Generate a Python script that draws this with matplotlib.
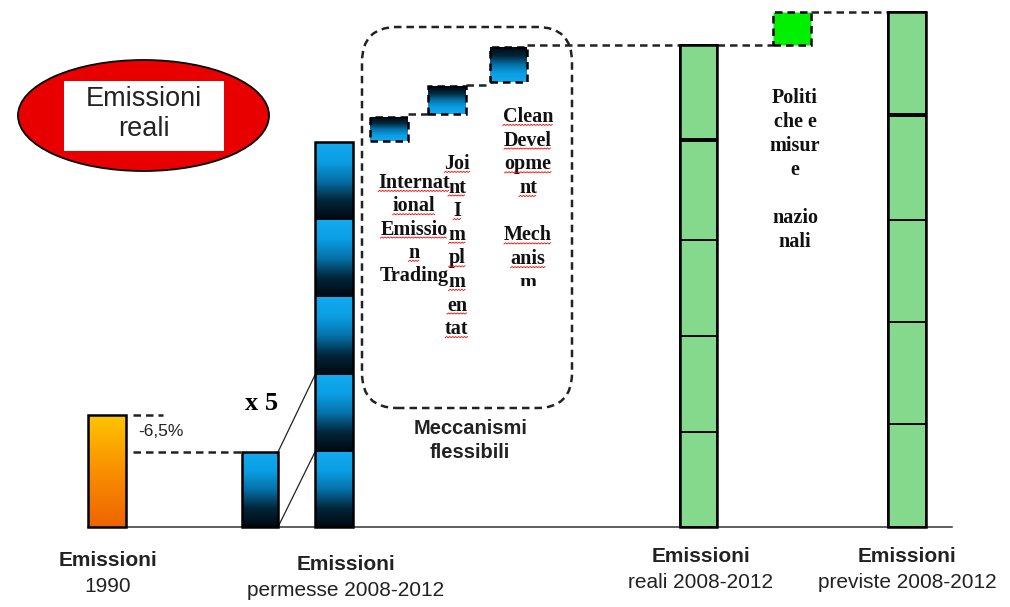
import numpy as np
import matplotlib.pyplot as plt
from matplotlib.patches import Rectangle, Ellipse, FancyBboxPatch
from matplotlib.colors import LinearSegmentedColormap
from matplotlib.transforms import Bbox, TransformedBbox

# values as drawn in the picture (arbitrary units, baseline = 0)
emissioni_1990 = 112
permesse_base = 75
permesse_stack = [75, 77, 78, 77, 78]
meccanismi = ["IET", "JI", "CDM"]
mecc_low = [386, 413, 445]
mecc_high = [410, 441, 480]
reali_segments = [95, 96, 96, 100, 95]
previste_segments = [103, 102, 102, 105, 103]
politiche_low, politiche_high = 482, 515

label_top = ["Emissioni", "Emissioni", "Emissioni", "Emissioni"]
label_sub = ["1990", "permesse 2008-2012", "reali 2008-2012", "previste 2008-2012"]

iet_lines = ["Internat", "ional", "Emissio", "n", "Trading"]
ji_lines = ["Joi", "nt", "I", "m", "pl", "m", "en", "tat"]
cdm_lines = ["Clean", "Devel", "opme", "nt", "", "Mech", "anis", "m"]
politiche_lines = ["Politi", "che e", "misur", "e", "", "nazio", "nali"]

# layout (x spans of the bars)
x_1990 = (88, 126)
x_perm = (242, 278)
x_stack = (315, 353)
x_mecc = [(370, 408), (428, 466), (490, 527)]
x_reali = (680, 717)
x_pol = (773, 811)
x_prev = (888, 926)

SANS = "Liberation Sans"
SERIF = "Liberation Serif"
DASH = (0, (3, 2))

blue = LinearSegmentedColormap.from_list(
    "blue", ["#000810", "#02263a", "#0670a8", "#0a9ee2", "#14aaf0"])
orange = LinearSegmentedColormap.from_list("orange", ["#ee6400", "#f98f00", "#ffc400"])
grad = np.linspace(1, 0, 128).reshape(-1, 1)

fig = plt.figure(figsize=(10.1, 6.07), dpi=100)
ax = fig.add_axes([0, 0, 1, 1])
ax.set_xlim(0, 1010)
ax.set_ylim(-80, 527)
ax.axis("off")


def block(xs, y0, y1, cmap, flip=False, ls="-", lw=1.8):
    g = grad[::-1] if flip else grad
    ax.imshow(g, extent=(xs[0], xs[1], y0, y1), aspect="auto", cmap=cmap,
              origin="upper", interpolation="bilinear", zorder=2)
    ax.add_patch(Rectangle((xs[0], y0), xs[1] - xs[0], y1 - y0, fill=False,
                           ec="black", lw=lw, ls=ls, zorder=3))


def green_column(xs, segments):
    bottoms = np.concatenate([[0], np.cumsum(segments)[:-1]])
    for b, h in zip(bottoms, segments):
        ax.add_patch(Rectangle((xs[0], b), xs[1] - xs[0], h, fc="#84d98c",
                               ec="black", lw=1.3, zorder=2))
    # the heavier divider under the top segment
    ax.plot(xs, [bottoms[-1]] * 2, color="black", lw=2.8, zorder=3,
            solid_capstyle="butt")
    ax.add_patch(Rectangle((xs[0], 0), xs[1] - xs[0], sum(segments),
                           fill=False, ec="black", lw=1.8, zorder=3))


# baseline
ax.plot([x_1990[0], 952], [0, 0], color="#333333", lw=1.1, zorder=1)

# 1990
block(x_1990, 0, emissioni_1990, orange)
ax.plot([133, 163], [emissioni_1990] * 2, color="#222", lw=1.8, ls=DASH)
ax.plot([133, x_perm[0]], [permesse_base] * 2, color="#222", lw=1.8, ls=DASH)
ax.text(138, 527 - 432, "-6,5%", fontsize=12.5, family=SANS, va="center", color="#222")

# permesse
block(x_perm, 0, permesse_base, blue)
bottoms = np.concatenate([[0], np.cumsum(permesse_stack)[:-1]])
for b, h in zip(bottoms, permesse_stack):
    block(x_stack, b, b + h, blue, lw=0)
ax.add_patch(Rectangle((x_stack[0], 0), x_stack[1] - x_stack[0], sum(permesse_stack),
                       fill=False, ec="black", lw=1.8, zorder=3))
ax.plot([x_perm[1], x_stack[0]], [permesse_base, bottoms[2]], color="#222", lw=0.9)
ax.plot([x_perm[1], x_stack[0]], [0, bottoms[1]], color="#222", lw=0.9)
ax.text(262, 527 - 404, "x 5", fontsize=19, family=SERIF, weight="bold",
        ha="center", va="center")

# meccanismi flessibili
for xs, lo, hi in zip(x_mecc, mecc_low, mecc_high):
    block(xs, lo, hi, blue, flip=True, ls=DASH)
ax.plot([x_mecc[0][1], x_mecc[1][0]], [mecc_low[1]] * 2, color="#222", lw=1.8, ls=DASH)
ax.plot([x_mecc[1][1], x_mecc[2][0]], [mecc_high[1] + 1] * 2, color="#222", lw=1.8, ls=DASH)
ax.plot([x_mecc[2][1], x_reali[0]], [sum(reali_segments)] * 2, color="#222", lw=1.8, ls=DASH)
ax.add_patch(FancyBboxPatch((362, 119), 210, 381, boxstyle="round,pad=0,rounding_size=35",
                            fill=False, ec="#222", lw=1.8, ls=DASH, zorder=1))
ax.text(471, 527 - 428, "Meccanismi", fontsize=14.5, family=SANS, weight="bold",
        ha="center", va="center", color="#222")
ax.text(470, 527 - 452, "flessibili", fontsize=14.5, family=SANS, weight="bold",
        ha="center", va="center", color="#222")

squiggle = []
for i, s in enumerate(iet_lines):
    t = ax.text(414, 527 - (183 + 23.3 * i), s, fontsize=14.5, family=SERIF, weight="bold",
                ha="center", va="center", color="#111")
    if s != "Trading":
        squiggle.append(t)
for i, s in enumerate(ji_lines):
    t = ax.text(457, 527 - (164 + 23.6 * i), s, fontsize=14.5, family=SERIF, weight="bold",
                ha="center", va="center", color="#111")
    squiggle.append(t)
for i, s in enumerate(cdm_lines):
    if not s:
        continue
    t = ax.text(528, 527 - (117 + 23.7 * i), s, fontsize=14.5, family=SERIF, weight="bold",
                ha="center", va="center", color="#111")
    if i == len(cdm_lines) - 1:
        t.set_clip_on(True)
        t.set_clip_box(TransformedBbox(Bbox([[480, 241], [580, 400]]), ax.transData))
    else:
        squiggle.append(t)

# reali
green_column(x_reali, reali_segments)

# politiche e misure nazionali
ax.add_patch(Rectangle((x_pol[0], politiche_low), x_pol[1] - x_pol[0],
                       politiche_high - politiche_low, fc="#00f000", ec="black",
                       lw=1.8, ls=DASH, zorder=3))
ax.plot([x_reali[1], x_pol[0]], [politiche_low] * 2, color="#222", lw=1.8, ls=DASH)
ax.plot([x_pol[1], x_prev[0]], [politiche_high] * 2, color="#222", lw=1.8, ls=DASH)
for i, s in enumerate(politiche_lines):
    ax.text(795, 527 - (98 + 24 * i), s, fontsize=14.5, family=SERIF, weight="bold",
            ha="center", va="center", color="#111")

# previste
green_column(x_prev, previste_segments)

# "Emissioni reali" badge
ax.add_patch(Ellipse((143.5, 527 - 115.5), 251, 111, fc="#e80000", ec="black", lw=1.3, zorder=2))
ax.add_patch(Rectangle((64, 527 - 151), 160, 70, fc="white", ec="none", zorder=3))
ax.text(144, 527 - 99, "Emissioni", fontsize=19.5, family=SANS, ha="center", va="center",
        color="#222", zorder=4)
ax.text(144, 527 - 129, "reali", fontsize=19.5, family=SANS, ha="center", va="center",
        color="#222", zorder=4)

# category labels
label_x = [108, 346, 701, 907]
label_y = [(560, 586), (565, 590), (557, 582), (557, 582)]
for lx, (y1, y2), top, sub in zip(label_x, label_y, label_top, label_sub):
    ax.text(lx, 527 - y1, top, fontsize=15, family=SANS, weight="bold",
            ha="center", va="center", color="#222")
    ax.text(lx, 527 - y2, sub, fontsize=15, family=SANS, ha="center", va="center",
            color="#222")

# red spell-check squiggles
fig.canvas.draw()
inv = ax.transData.inverted()
for t in squiggle:
    bb = t.get_window_extent()
    (x0, y0), (x1, _) = inv.transform([[bb.x0, bb.y0], [bb.x1, bb.y1]])
    xs = np.arange(x0, x1, 1.5)
    ys = y0 + 1.5 + (np.arange(len(xs)) % 2) * 1.2
    ax.plot(xs, ys, color="red", lw=0.6, zorder=4)

fig.savefig("out.png", dpi=100)
